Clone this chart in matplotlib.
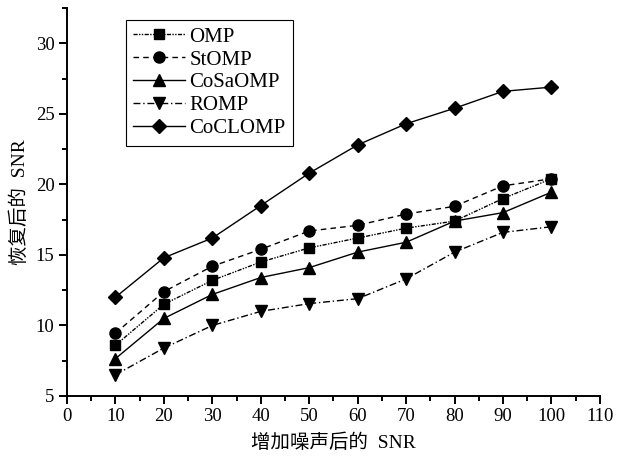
"""
不同算法恢复 SNR 对比图
"""
import matplotlib
matplotlib.use('Agg')
import matplotlib.pyplot as plt
from matplotlib.ticker import MultipleLocator

plt.rcParams['font.family'] = ['Liberation Serif', 'Noto Sans CJK SC']
plt.rcParams['axes.unicode_minus'] = False

# 数据
snr_in = [10, 20, 30, 40, 50, 60, 70, 80, 90, 100]
omp = [8.6, 11.5, 13.2, 14.5, 15.5, 16.2, 16.9, 17.4, 19.0, 20.4]
stomp = [9.45, 12.4, 14.2, 15.4, 16.7, 17.1, 17.9, 18.45, 19.9, 20.4]
cosaomp = [7.65, 10.5, 12.2, 13.4, 14.1, 15.2, 15.9, 17.4, 18.0, 19.45]
romp = [6.5, 8.4, 10.0, 11.0, 11.55, 11.9, 13.3, 15.2, 16.6, 17.0]
coclomp = [12.0, 14.8, 16.2, 18.5, 20.8, 22.8, 24.3, 25.4, 26.6, 26.9]

fig = plt.figure(figsize=(6.17, 4.57), dpi=100)
ax = fig.add_axes([0.1086, 0.1335, 0.8636, 0.8487])

# 各算法曲线
ax.plot(snr_in, omp, color='black', linewidth=1.0, linestyle=(0, (3, 1, 1, 1, 1, 1)),
        marker='s', markersize=7, label='OMP')
ax.plot(snr_in, stomp, color='black', linewidth=1.0, linestyle=(0, (4, 3)),
        marker='o', markersize=8, label='StOMP')
ax.plot(snr_in, cosaomp, color='black', linewidth=1.0, linestyle='-',
        marker='^', markersize=8, label='CoSaOMP')
ax.plot(snr_in, romp, color='black', linewidth=1.0, linestyle=(0, (5, 2, 1, 2)),
        marker='v', markersize=8, label='ROMP')
ax.plot(snr_in, coclomp, color='black', linewidth=1.0, linestyle='-',
        marker='D', markersize=7, label='CoCLOMP')

ax.set_xlim(0, 110)
ax.set_ylim(5, 32.5)
ax.xaxis.set_major_locator(MultipleLocator(10))
ax.xaxis.set_minor_locator(MultipleLocator(5))
ax.yaxis.set_major_locator(MultipleLocator(5))
ax.yaxis.set_minor_locator(MultipleLocator(2.5))

ax.spines['top'].set_visible(False)
ax.spines['right'].set_visible(False)
ax.spines['left'].set_linewidth(1.4)
ax.spines['bottom'].set_linewidth(1.4)
ax.tick_params(which='major', direction='out', length=6, width=1.4, labelsize=13.5, pad=3)
ax.tick_params(which='minor', direction='out', length=3.5, width=1.4)

ax.set_xlabel('增加噪声后的  SNR', fontsize=14, labelpad=6)
ax.set_ylabel('恢复后的  SNR', fontsize=14, labelpad=5)

leg = ax.legend(loc='upper left', bbox_to_anchor=(0.11, 0.97), borderaxespad=0,
                fontsize=15, handlelength=2.5, handletextpad=0.2, labelspacing=0.16,
                fancybox=False, framealpha=1, borderpad=0.35)
leg.get_frame().set_edgecolor('black')
leg.get_frame().set_linewidth(0.8)

fig.savefig('out.png', dpi=100)
